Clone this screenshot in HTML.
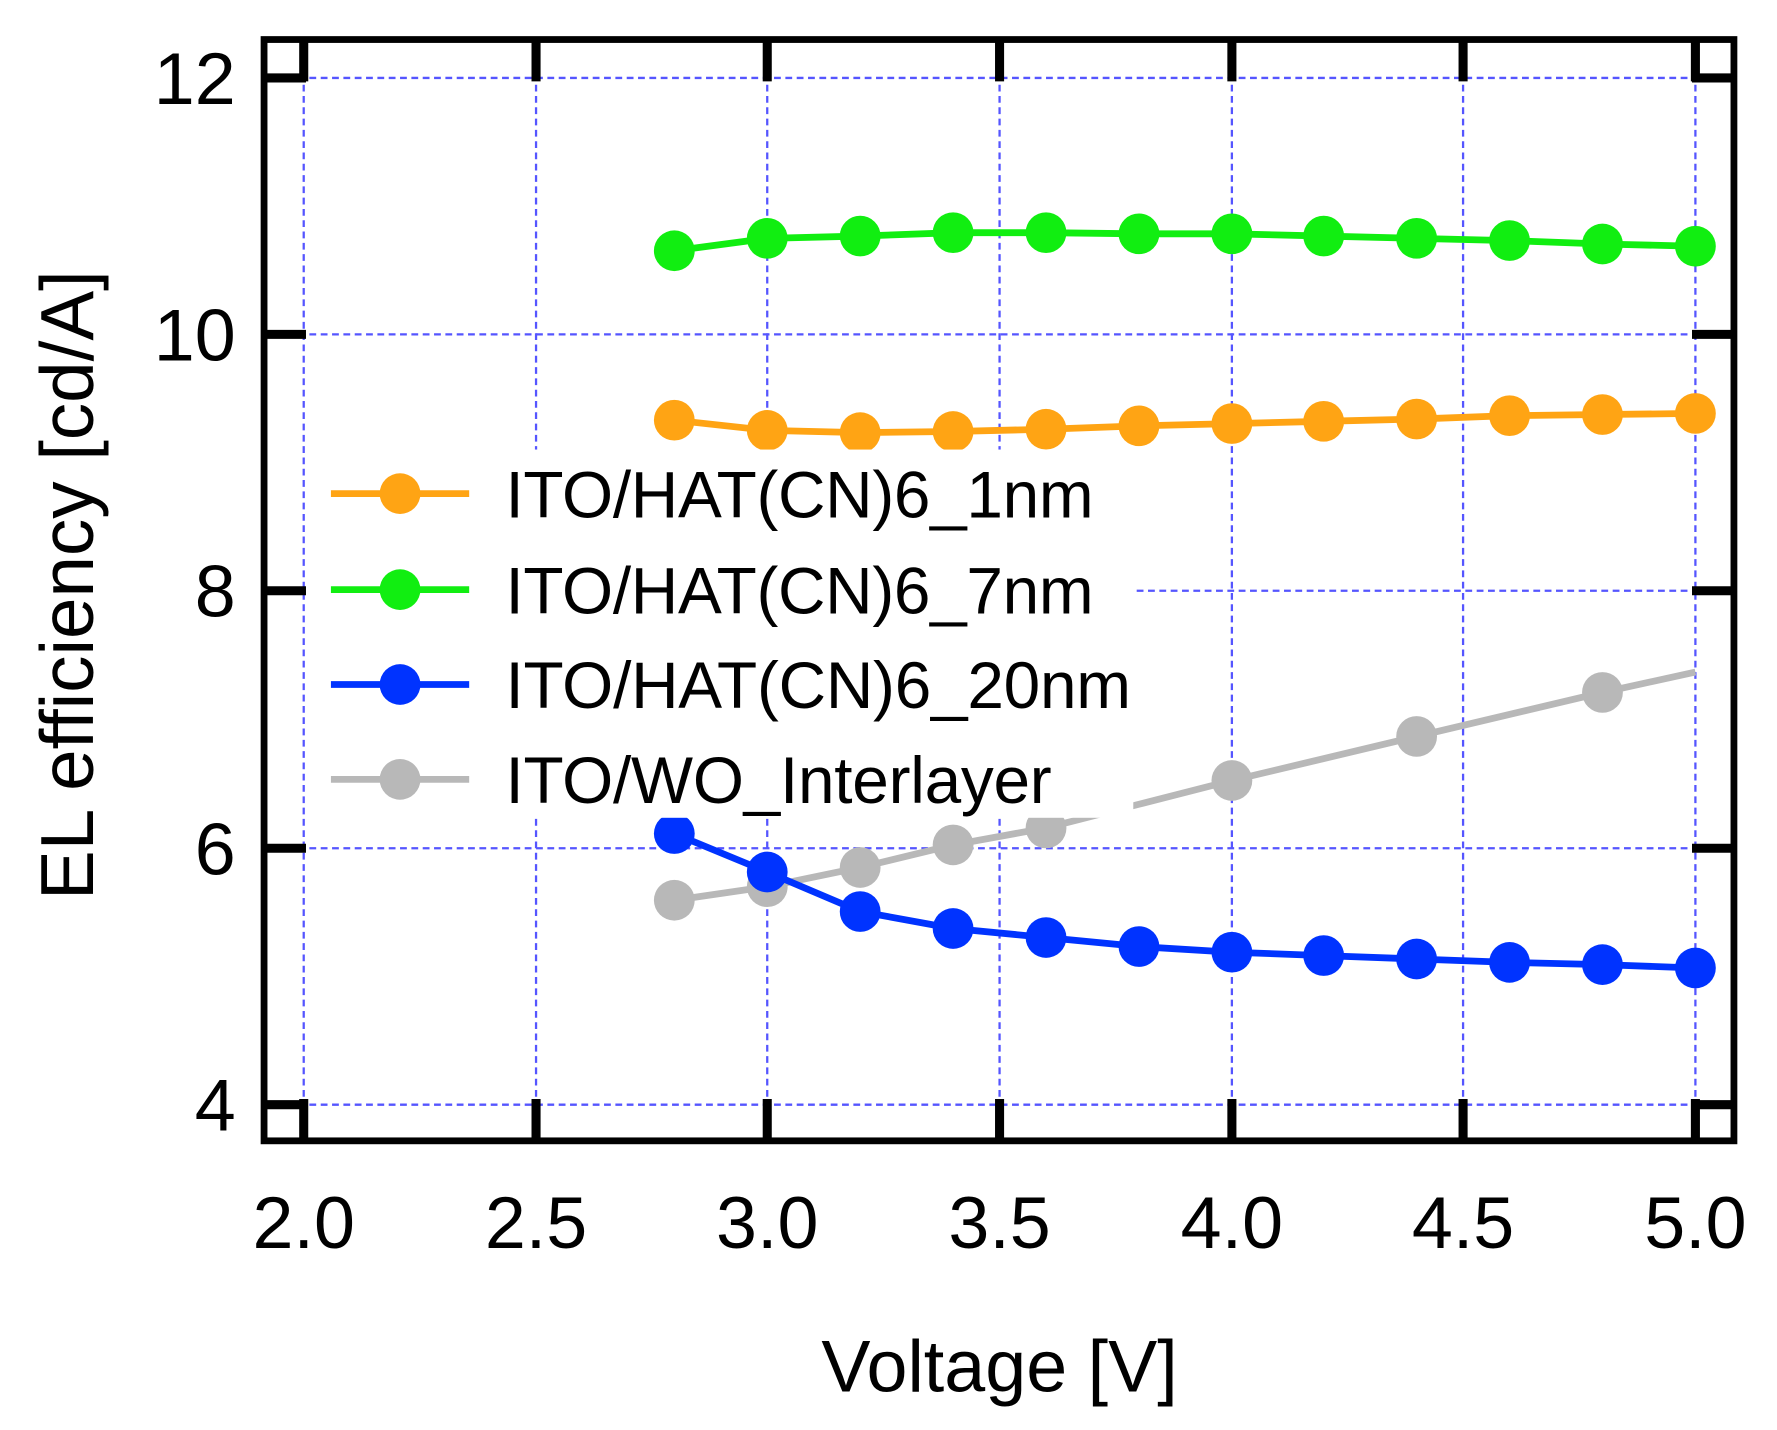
<!DOCTYPE html>
<html><head><meta charset="utf-8"><style>html,body{margin:0;padding:0;background:#fff}svg{display:block}</style></head>
<body>
<svg width="1777" height="1430" viewBox="0 0 1568 1266" preserveAspectRatio="none" xmlns="http://www.w3.org/2000/svg" font-family="Liberation Sans, Arial, sans-serif">
<rect width="1568" height="1266" fill="#fff"/>
<g stroke="#5555ff" stroke-width="2" stroke-dasharray="6,4" fill="none">
<line x1="268" y1="35" x2="268" y2="1010"/><line x1="473" y1="35" x2="473" y2="1010"/><line x1="677" y1="35" x2="677" y2="1010"/><line x1="882" y1="35" x2="882" y2="1010"/><line x1="1087" y1="35" x2="1087" y2="1010"/><line x1="1291" y1="35" x2="1291" y2="1010"/><line x1="1496" y1="35" x2="1496" y2="1010"/>
<line x1="233" y1="69" x2="1530" y2="69"/><line x1="233" y1="296" x2="1530" y2="296"/><line x1="233" y1="523" x2="1530" y2="523"/><line x1="233" y1="751" x2="1530" y2="751"/><line x1="233" y1="978" x2="1530" y2="978"/>
</g>
<g stroke-width="6" stroke-linejoin="round">
<polyline fill="none" stroke="#b8b8b8" points="595,797 677,785 759,768 841,748 923,733 1005,712 1087,691 1250,652 1414,613 1496,595"/>
<g fill="#b8b8b8" stroke="none"><circle cx="595" cy="797" r="18"/><circle cx="677" cy="785" r="18"/><circle cx="759" cy="768" r="18"/><circle cx="841" cy="748" r="18"/><circle cx="923" cy="733" r="18"/><circle cx="1087" cy="691" r="18"/><circle cx="1250" cy="652" r="18"/><circle cx="1414" cy="613" r="18"/></g>
<polyline fill="none" stroke="#0033ff" points="595,738 677,772 759,807 841,822 923,830 1005,838 1087,843 1168,846 1250,849 1332,852 1414,854 1496,857"/>
<g fill="#0033ff" stroke="none"><circle cx="595" cy="738" r="18"/><circle cx="677" cy="772" r="18"/><circle cx="759" cy="807" r="18"/><circle cx="841" cy="822" r="18"/><circle cx="923" cy="830" r="18"/><circle cx="1005" cy="838" r="18"/><circle cx="1087" cy="843" r="18"/><circle cx="1168" cy="846" r="18"/><circle cx="1250" cy="849" r="18"/><circle cx="1332" cy="852" r="18"/><circle cx="1414" cy="854" r="18"/><circle cx="1496" cy="857" r="18"/></g>
<polyline fill="none" stroke="#ffa414" points="595,372 677,381 759,383 841,382 923,380 1005,377 1087,375 1168,373 1250,371 1332,368 1414,367 1496,366"/>
<g fill="#ffa414" stroke="none"><circle cx="595" cy="372" r="18"/><circle cx="677" cy="381" r="18"/><circle cx="759" cy="383" r="18"/><circle cx="841" cy="382" r="18"/><circle cx="923" cy="380" r="18"/><circle cx="1005" cy="377" r="18"/><circle cx="1087" cy="375" r="18"/><circle cx="1168" cy="373" r="18"/><circle cx="1250" cy="371" r="18"/><circle cx="1332" cy="368" r="18"/><circle cx="1414" cy="367" r="18"/><circle cx="1496" cy="366" r="18"/></g>
<polyline fill="none" stroke="#11ee11" points="595,222 677,211 759,209 841,206 923,206 1005,207 1087,207 1168,209 1250,211 1332,213 1414,216 1496,218"/>
<g fill="#11ee11" stroke="none"><circle cx="595" cy="222" r="18"/><circle cx="677" cy="211" r="18"/><circle cx="759" cy="209" r="18"/><circle cx="841" cy="206" r="18"/><circle cx="923" cy="206" r="18"/><circle cx="1005" cy="207" r="18"/><circle cx="1087" cy="207" r="18"/><circle cx="1168" cy="209" r="18"/><circle cx="1250" cy="211" r="18"/><circle cx="1332" cy="213" r="18"/><circle cx="1414" cy="216" r="18"/><circle cx="1496" cy="218" r="18"/></g>
</g>
<rect x="272" y="398" width="728" height="326" fill="#fff"/>
<g stroke-width="6">
<line x1="292" y1="437" x2="414" y2="437" stroke="#ffa414"/><circle cx="353" cy="437" r="18" fill="#ffa414" stroke="none"/>
<line x1="292" y1="522" x2="414" y2="522" stroke="#11ee11"/><circle cx="353" cy="522" r="18" fill="#11ee11" stroke="none"/>
<line x1="292" y1="606" x2="414" y2="606" stroke="#0033ff"/><circle cx="353" cy="606" r="18" fill="#0033ff" stroke="none"/>
<line x1="292" y1="690" x2="414" y2="690" stroke="#b8b8b8"/><circle cx="353" cy="690" r="18" fill="#b8b8b8" stroke="none"/>
</g>
<g font-size="58" fill="#000">
<text x="446" y="458" textLength="519">ITO/HAT(CN)6_1nm</text>
<text x="446" y="543" textLength="519">ITO/HAT(CN)6_7nm</text>
<text x="446" y="627" textLength="552">ITO/HAT(CN)6_20nm</text>
<text x="446" y="711" textLength="482">ITO/WO_Interlayer</text>
</g>
<g stroke="#000" stroke-width="8">
<line x1="268" y1="1010" x2="268" y2="973"/><line x1="473" y1="1010" x2="473" y2="973"/><line x1="677" y1="1010" x2="677" y2="973"/><line x1="882" y1="1010" x2="882" y2="973"/><line x1="1087" y1="1010" x2="1087" y2="973"/><line x1="1291" y1="1010" x2="1291" y2="973"/><line x1="1496" y1="1010" x2="1496" y2="973"/>
<line x1="268" y1="35" x2="268" y2="72"/><line x1="473" y1="35" x2="473" y2="72"/><line x1="677" y1="35" x2="677" y2="72"/><line x1="882" y1="35" x2="882" y2="72"/><line x1="1087" y1="35" x2="1087" y2="72"/><line x1="1291" y1="35" x2="1291" y2="72"/><line x1="1496" y1="35" x2="1496" y2="72"/>
<line x1="233" y1="69" x2="270" y2="69"/><line x1="233" y1="296" x2="270" y2="296"/><line x1="233" y1="523" x2="270" y2="523"/><line x1="233" y1="751" x2="270" y2="751"/><line x1="233" y1="978" x2="270" y2="978"/>
<line x1="1530" y1="69" x2="1493" y2="69"/><line x1="1530" y1="296" x2="1493" y2="296"/><line x1="1530" y1="523" x2="1493" y2="523"/><line x1="1530" y1="751" x2="1493" y2="751"/><line x1="1530" y1="978" x2="1493" y2="978"/>
</g>
<rect x="233" y="35" width="1297" height="975" fill="none" stroke="#000" stroke-width="6"/>
<g font-size="65" fill="#000" text-anchor="middle">
<text x="268" y="1105">2.0</text><text x="473" y="1105">2.5</text><text x="677" y="1105">3.0</text><text x="882" y="1105">3.5</text><text x="1087" y="1105">4.0</text><text x="1291" y="1105">4.5</text><text x="1496" y="1105">5.0</text>
</g>
<g font-size="65" fill="#000" text-anchor="end">
<text x="208" y="92">12</text><text x="208" y="319">10</text><text x="208" y="546">8</text><text x="208" y="774">6</text><text x="208" y="1001">4</text>
</g>
<text x="882" y="1232" font-size="65" text-anchor="middle">Voltage [V]</text>
<text transform="translate(82,518) rotate(-90)" font-size="66" text-anchor="middle">EL efficiency [cd/A]</text>
</svg>
</body></html>
